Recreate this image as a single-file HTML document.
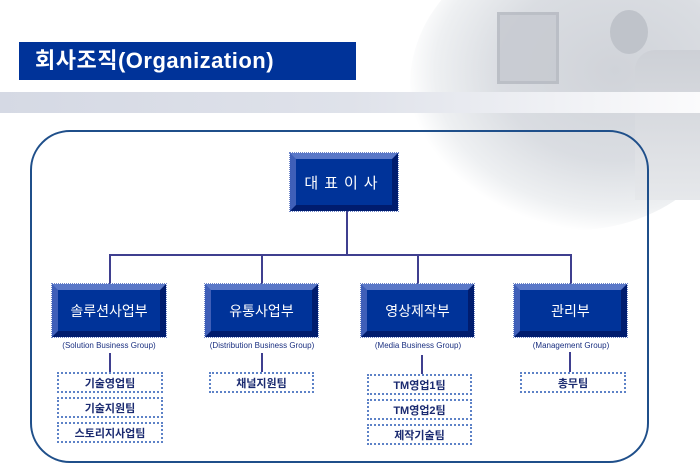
<!DOCTYPE html>
<html><head><meta charset="utf-8"><style>
*{margin:0;padding:0;box-sizing:border-box}
body{width:700px;height:475px;background:#fff;position:relative;overflow:hidden;font-family:"Liberation Sans","Noto Sans CJK KR",sans-serif}
.a{position:absolute}
.photo{left:410px;top:-60px;width:330px;height:290px;border-radius:50%;background:radial-gradient(ellipse at 62% 45%,#d0d3d9 0%,#dadde2 40%,#eef0f2 62%,rgba(255,255,255,0) 72%)}
.dept{position:absolute;height:53px;background:#003399;border-style:solid;border-width:6px;border-color:#5a78c8 #001c6e #001c6e #3f5fb8;outline:1px dotted #6f86c8;color:#fff;font-size:14px;font-weight:normal;display:flex;align-items:center;justify-content:center}
.grp{position:absolute;font-size:8px;color:#1a2f80;text-align:center;width:160px}
.sub{position:absolute;height:21px;border:2px dotted #5d82c7;color:#1a2a70;font-size:11px;font-weight:bold;display:flex;align-items:center;justify-content:center;background:#fff}
.v{position:absolute;width:2px;background:#3f3f8f}
</style></head><body>
<div class="a photo"></div>
<div class="a" style="left:497px;top:12px;width:62px;height:72px;background:#c6c9d0;border:3px solid #b4b8c0;opacity:.8"></div>
<div class="a" style="left:610px;top:10px;width:38px;height:44px;border-radius:50%;background:#bfc3ca"></div>
<div class="a" style="left:635px;top:50px;width:65px;height:150px;background:linear-gradient(180deg,#cdd0d6,#e6e8eb);border-radius:20px 0 0 0"></div>
<div class="a" style="left:0;top:92px;width:700px;height:21px;background:linear-gradient(90deg,#d5d9e4 0%,#dfe2ea 50%,#fbfbfc 100%)"></div>
<div class="a" style="left:19px;top:42px;width:337px;height:38px;background:#003399;color:#fff;font-size:22px;font-weight:bold;padding-left:16px;line-height:38px;letter-spacing:0.5px">회사조직(Organization)</div>
<div class="a" style="left:30px;top:130px;width:619px;height:333px;border:2px solid #1f4f8a;border-radius:40px;background:transparent"></div>

<div class="dept" style="left:290px;top:153px;width:108px;height:58px;font-size:15px;letter-spacing:6px">대표이사</div>
<div class="v" style="left:346px;top:211px;height:45px"></div>
<div class="a" style="left:109px;top:254px;width:463px;height:2px;background:#3f3f8f"></div>
<div class="v" style="left:109px;top:254px;height:30px"></div>
<div class="v" style="left:261px;top:254px;height:30px"></div>
<div class="v" style="left:417px;top:254px;height:30px"></div>
<div class="v" style="left:570px;top:254px;height:30px"></div>

<div class="dept" style="left:52px;top:284px;width:114px">솔루션사업부</div>
<div class="dept" style="left:205px;top:284px;width:113px">유통사업부</div>
<div class="dept" style="left:361px;top:284px;width:113px">영상제작부</div>
<div class="dept" style="left:514px;top:284px;width:113px">관리부</div>

<div class="grp" style="left:29px;top:341px">(Solution Business Group)</div>
<div class="grp" style="left:182px;top:341px">(Distribution Business Group)</div>
<div class="grp" style="left:338px;top:341px">(Media Business Group)</div>
<div class="grp" style="left:491px;top:341px">(Management Group)</div>

<div class="v" style="left:109px;top:353px;height:19px"></div>
<div class="v" style="left:261px;top:353px;height:19px"></div>
<div class="v" style="left:421px;top:355px;height:19px"></div>
<div class="v" style="left:569px;top:352px;height:20px"></div>

<div class="sub" style="left:57px;top:372px;width:106px">기술영업팀</div>
<div class="sub" style="left:57px;top:397px;width:106px">기술지원팀</div>
<div class="sub" style="left:57px;top:422px;width:106px">스토리지사업팀</div>
<div class="sub" style="left:209px;top:372px;width:105px">채널지원팀</div>
<div class="sub" style="left:367px;top:374px;width:105px">TM영업1팀</div>
<div class="sub" style="left:367px;top:399px;width:105px">TM영업2팀</div>
<div class="sub" style="left:367px;top:424px;width:105px">제작기술팀</div>
<div class="sub" style="left:520px;top:372px;width:106px">총무팀</div>
</body></html>
